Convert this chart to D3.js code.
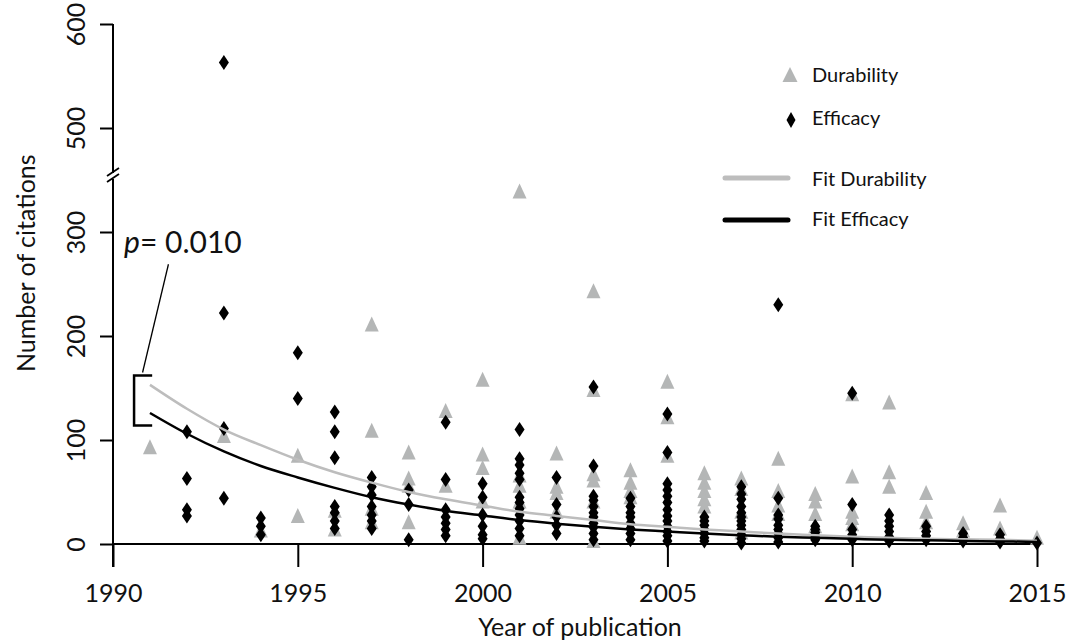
<!DOCTYPE html>
<html>
<head>
<meta charset="utf-8">
<script src="https://cdn.jsdelivr.net/npm/d3@7"></script>
<style>
  html, body { margin: 0; padding: 0; background: #fff; }
  svg text { font-family: Lato, "Open Sans", sans-serif; fill: #111; }
</style>
</head>
<body>
<svg id="chart" width="1088" height="642"></svg>
<script>
// ---- Data ----
const xTicks = [1990, 1995, 2000, 2005, 2010, 2015];
const yTicks = [0, 100, 200, 300, 500, 600];

const durabilityPoints = [
  [1991, [92]],
  [1993, [103]],
  [1994, [12]],
  [1995, [84, 26]],
  [1996, [31, 13]],
  [1997, [210, 108, 33, 20]],
  [1998, [87, 62, 55, 20]],
  [1999, [127, 55]],
  [2000, [157, 85, 72, 40]],
  [2001, [338, 65, 55, 40, 5]],
  [2002, [86, 54, 48, 30]],
  [2003, [242, 147, 66, 60, 40, 2]],
  [2004, [70, 58, 50, 44]],
  [2005, [155, 121, 84]],
  [2006, [67, 58, 50, 42, 35]],
  [2007, [62, 52, 30, 10]],
  [2008, [81, 50, 36, 28]],
  [2009, [47, 40, 28, 16]],
  [2010, [143, 64, 30, 24, 18]],
  [2011, [135, 68, 54]],
  [2012, [48, 30, 20]],
  [2013, [19, 12]],
  [2014, [36, 14]],
  [2015, [5]]
];

const efficacyPoints = [
  [1992, [108, 63, 33, 27]],
  [1993, [563, 222, 111, 44]],
  [1994, [25, 17, 9]],
  [1995, [184, 140]],
  [1996, [127, 108, 83, 36, 30, 22, 15]],
  [1997, [64, 55, 47, 36, 28, 22, 15]],
  [1998, [52, 38, 4]],
  [1999, [117, 62, 33, 26, 20, 14, 8]],
  [2000, [58, 45, 28, 17, 9, 5]],
  [2001, [110, 82, 76, 68, 62, 45, 40, 34, 28, 22, 15, 8]],
  [2002, [64, 38, 26, 18, 10]],
  [2003, [151, 75, 46, 42, 36, 30, 26, 20, 16, 10, 4]],
  [2004, [44, 36, 30, 26, 20, 15, 10, 4]],
  [2005, [125, 88, 58, 52, 46, 40, 33, 27, 22, 17, 12, 8, 3]],
  [2006, [26, 22, 18, 14, 10, 6, 3]],
  [2007, [55, 48, 43, 36, 30, 26, 22, 18, 14, 9, 5, 1]],
  [2008, [230, 44, 28, 24, 18, 14, 10, 6, 2]],
  [2009, [17, 14, 11, 8, 4]],
  [2010, [145, 38, 14, 9, 4]],
  [2011, [28, 22, 17, 12, 7, 3]],
  [2012, [17, 12, 8, 4]],
  [2013, [10, 6, 3]],
  [2014, [9, 5, 2]],
  [2015, [1]]
];

const fitYears = [1991,1992,1993,1994,1995,1996,1997,1998,1999,2000,2001,2002,2003,
                  2004,2005,2006,2007,2008,2009,2010,2011,2012,2013,2014,2015];
const fitDurability = [153,130,110,95,81,69,59,50,43,37,31,27,23,19,16.5,14,12,10,8.5,7,6,5,4.5,4,3];
const fitEfficacy   = [126,106,89,75,64,54,45,38,32,27.5,23,19.5,16.5,14,12,10,8.5,7,6,5,4,3.5,3,2.5,2];

const pLabel = "0.010";
const bracketRange = [114, 162];   // values spanned by the p-value bracket

// ---- Scales ----
const svg = d3.select("#chart");
const x = d3.scaleLinear().domain([1990, 2015]).range([113, 1037]);
// broken axis: 0..350 and 450..600 share one pixel scale
const y = d3.scaleLinear().domain([0, 350, 450, 600]).range([544, 180, 180, 24]);

const GREY = "#b4b6b6";

// ---- Axes ----
const xAxisG = svg.append("g").attr("transform", `translate(0,${y(0)})`)
  .call(d3.axisBottom(x).tickValues(xTicks).tickFormat(d3.format("d")).tickSize(23).tickSizeOuter(0));
xAxisG.select(".domain").remove();
xAxisG.selectAll(".tick line").attr("stroke", "#000").attr("stroke-width", 2);
xAxisG.selectAll(".tick text").attr("y", 58).attr("dy", null)
  .style("font-size", "25px").attr("fill", "#111");
xAxisG.append("line").attr("x1", x(1990)).attr("x2", x(2015)).attr("y1", 0).attr("y2", 0)
  .attr("stroke", "#000").attr("stroke-width", 2);

const yAxisG = svg.append("g").attr("transform", `translate(${x(1990)},0)`)
  .call(d3.axisLeft(y).tickValues(yTicks).tickSize(13).tickSizeOuter(0));
yAxisG.select(".domain").remove();
yAxisG.selectAll(".tick line").attr("stroke", "#000").attr("stroke-width", 2);
yAxisG.selectAll(".tick text").attr("x", null).attr("dy", null)
  .attr("transform", "translate(-28,0) rotate(-90)")
  .attr("text-anchor", "middle").style("font-size", "25px").attr("fill", "#111");

// y axis line with a break
const breakY = y(350);
yAxisG.append("line").attr("x1", 0).attr("x2", 0).attr("y1", y(600)).attr("y2", breakY - 7)
  .attr("stroke", "#000").attr("stroke-width", 2);
yAxisG.append("line").attr("x1", 0).attr("x2", 0).attr("y1", breakY - 1).attr("y2", y(0) + 23)
  .attr("stroke", "#000").attr("stroke-width", 2);
[-8, -2].forEach(off => {
  yAxisG.append("line")
    .attr("x1", -6).attr("y1", breakY + off + 4)
    .attr("x2", 6).attr("y2", breakY + off - 4)
    .attr("stroke", "#000").attr("stroke-width", 1.8);
});

// ---- Points ----
const triPath = "M0,-9 L7,6 L-7,6 Z";
const diaPath = "M0,-7.5 L5,0 L0,7.5 L-5,0 Z";

const durFlat = durabilityPoints.flatMap(([yr, vals]) => vals.map(v => ({yr, v})));
const effFlat = efficacyPoints.flatMap(([yr, vals]) => vals.map(v => ({yr, v})));

svg.append("g").selectAll("path").data(durFlat).join("path")
  .attr("d", triPath)
  .attr("transform", d => `translate(${x(d.yr)},${y(d.v)})`)
  .attr("fill", GREY);

svg.append("g").selectAll("path").data(effFlat).join("path")
  .attr("d", diaPath)
  .attr("transform", d => `translate(${x(d.yr)},${y(d.v)})`)
  .attr("fill", "#000");

// ---- Fit lines ----
const line = d3.line().x(d => x(d[0])).y(d => y(d[1])).curve(d3.curveMonotoneX);
svg.append("path").datum(fitYears.map((yr, i) => [yr, fitDurability[i]]))
  .attr("d", line).attr("fill", "none").attr("stroke", "#bdbdbd").attr("stroke-width", 2.5);
svg.append("path").datum(fitYears.map((yr, i) => [yr, fitEfficacy[i]]))
  .attr("d", line).attr("fill", "none").attr("stroke", "#000").attr("stroke-width", 2.5);

// ---- p-value annotation ----
const bx = x(1990.57), bArm = x(1991.06);
svg.append("path")
  .attr("d", `M${bArm},${y(bracketRange[1])} H${bx} V${y(bracketRange[0])} H${bArm}`)
  .attr("fill", "none").attr("stroke", "#000").attr("stroke-width", 2.5);
svg.append("line")
  .attr("x1", x(1990.8)).attr("y1", y(bracketRange[1]) - 3)
  .attr("x2", x(1991.5)).attr("y2", y(269))
  .attr("stroke", "#000").attr("stroke-width", 1.3);
const pt = svg.append("text").attr("x", x(1990.3)).attr("y", y(280)).style("font-size", "30px");
pt.append("tspan").style("font-style", "italic").text("p");
pt.append("tspan").text("= " + pLabel);

// ---- Axis titles ----
svg.append("text").attr("x", (x(1990) + x(2015)) / 2 + 5).attr("y", 636)
  .attr("text-anchor", "middle").style("font-size", "25px").text("Year of publication");
svg.append("text").attr("transform", `translate(35,${y(270)}) rotate(-90)`)
  .attr("text-anchor", "middle").style("font-size", "25px").text("Number of citations");

// ---- Legend ----
const legend = svg.append("g");
const lx = 790, tx = 812;
legend.append("path").attr("d", "M0,-8 L7.5,7 L-7.5,7 Z").attr("fill", GREY)
  .attr("transform", `translate(${lx},75)`);
legend.append("text").attr("x", tx).attr("y", 82).style("font-size", "20px").text("Durability");
legend.append("path").attr("d", "M0,-8 L4.5,0 L0,8 L-4.5,0 Z").attr("fill", "#000")
  .attr("transform", `translate(${lx + 1},120)`);
legend.append("text").attr("x", tx).attr("y", 125).style("font-size", "20px").text("Efficacy");
legend.append("line").attr("x1", 725).attr("x2", 788).attr("y1", 178).attr("y2", 178)
  .attr("stroke", "#bdbdbd").attr("stroke-width", 5).attr("stroke-linecap", "round");
legend.append("text").attr("x", tx).attr("y", 186).style("font-size", "20px").text("Fit Durability");
legend.append("line").attr("x1", 725).attr("x2", 788).attr("y1", 220).attr("y2", 220)
  .attr("stroke", "#000").attr("stroke-width", 5).attr("stroke-linecap", "round");
legend.append("text").attr("x", tx).attr("y", 226).style("font-size", "20px").text("Fit Efficacy");
</script>
</body>
</html>
